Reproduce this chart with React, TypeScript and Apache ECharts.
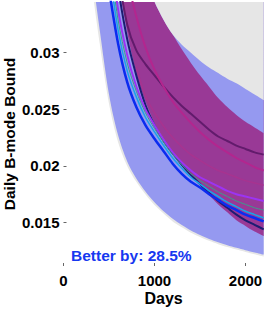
import React, { useEffect, useRef } from "react";
import * as echarts from "echarts";

// ---- data ----
const bandDays = [300, 400, 500, 600, 700, 800, 900, 1000, 1100, 1200, 1300, 1400, 1500, 1600, 1700, 1800, 1900, 2000, 2100, 2200];
const grayLower = [0.0365, 0.0307, 0.0255, 0.0221, 0.02, 0.0186, 0.0175, 0.01655, 0.0158, 0.0151, 0.01458, 0.0141, 0.01372, 0.01338, 0.01308, 0.01283, 0.01261, 0.0124, 0.0122, 0.012];
const blueLower = [0.0378, 0.0319, 0.0263, 0.0227, 0.0204, 0.0189, 0.01775, 0.0168, 0.016, 0.01534, 0.01478, 0.0143, 0.0139, 0.01355, 0.01325, 0.013, 0.01277, 0.01256, 0.01236, 0.01217];
const blueUpper = [0.052, 0.047, 0.043, 0.04, 0.0375, 0.0357, 0.0343, 0.0332, 0.0322, 0.0314, 0.0307, 0.03, 0.0293, 0.0287, 0.0282, 0.0277, 0.0273, 0.0268, 0.0263, 0.0258];
const purpleLower = [0.075, 0.058, 0.046, 0.037, 0.0318, 0.0282, 0.0257, 0.0238, 0.0224, 0.0212, 0.0202, 0.0192, 0.0183, 0.0174, 0.0166, 0.0159, 0.0152, 0.0147, 0.0142, 0.0138];
const purpleUpper = [0.095, 0.075, 0.06, 0.05, 0.0435, 0.0395, 0.0366, 0.0345, 0.0329, 0.0316, 0.0303, 0.0291, 0.028, 0.027, 0.026, 0.0252, 0.0245, 0.0239, 0.0234, 0.0229];

const lineDays = [500, 600, 700, 800, 900, 1000, 1100, 1200, 1300, 1400, 1500, 1600, 1700, 1800, 1900, 2000, 2100, 2200];
const blueLine = [0.0356, 0.0308, 0.0274, 0.0252, 0.0236, 0.0224, 0.0213, 0.0202, 0.0193, 0.0186, 0.0181, 0.0175, 0.017, 0.0165, 0.0161, 0.0157, 0.0154, 0.0151];
const cyanLine = [0.0375, 0.032, 0.0284, 0.0261, 0.0243, 0.023, 0.0218, 0.0207, 0.0198, 0.019, 0.0184, 0.0178, 0.0173, 0.0168, 0.0164, 0.016, 0.0157, 0.0154];
const tealLine = [0.0387, 0.0329, 0.0291, 0.0266, 0.0247, 0.0233, 0.0221, 0.021, 0.0201, 0.0193, 0.0187, 0.0182, 0.0177, 0.0173, 0.0169, 0.0166, 0.0163, 0.0161];
const violetLine = [0.04, 0.0338, 0.0298, 0.027, 0.025, 0.0236, 0.0223, 0.0212, 0.0203, 0.0196, 0.019, 0.0186, 0.0182, 0.0178, 0.0175, 0.0173, 0.0171, 0.0169];
const navyLine = [0.046, 0.036, 0.0312, 0.028, 0.0254, 0.0236, 0.0222, 0.0211, 0.0201, 0.0192, 0.0184, 0.0176, 0.0169, 0.0163, 0.0157, 0.0152, 0.0148, 0.0144];

const darkPurpleDays = [600, 700, 800, 900, 1000, 1100, 1200, 1300, 1400, 1500, 1600, 1700, 1800, 1900, 2000, 2100, 2200];
const darkPurpleLine = [0.037, 0.0325, 0.0302, 0.029, 0.028, 0.027, 0.0261, 0.0253, 0.0246, 0.0239, 0.0232, 0.0226, 0.0222, 0.0218, 0.0215, 0.0212, 0.021];
const magentaDays = [700, 800, 900, 1000, 1100, 1200, 1300, 1400, 1500, 1600, 1700, 1800, 1900, 2000, 2100, 2200];
const magentaLine = [0.0365, 0.0332, 0.0305, 0.0285, 0.027, 0.0257, 0.0247, 0.0238, 0.023, 0.0223, 0.0217, 0.0212, 0.0207, 0.0203, 0.0199, 0.0196];
const pinkDays = [800, 900, 1000, 1100, 1200, 1300, 1400, 1500, 1600, 1700, 1800, 1900, 2000, 2100, 2200];
const pinkLine = [0.0287, 0.0262, 0.0247, 0.0235, 0.0225, 0.0217, 0.021, 0.0205, 0.02, 0.0196, 0.0193, 0.019, 0.0187, 0.0185, 0.0183];

const xTicks = [0, 1000, 2000];
const yTicks = [0.015, 0.02, 0.025, 0.03];
const annotation = "Better by: 28.5%";

const FONT = "'Liberation Sans', Arial, Helvetica, sans-serif";

const pairs = (d: number[], v: number[]) => d.map((x, i) => [x, v[i]]);

const areaFromTop = (d: number[], v: number[], color: string, opacity = 1) => ({
  type: "line",
  data: pairs(d, v),
  symbol: "none",
  smooth: 0.3,
  silent: true,
  lineStyle: { width: 0, opacity: 0 },
  areaStyle: { color, opacity, origin: "end" },
});

const curve = (d: number[], v: number[], color: string, width: number, opacity = 1) => ({
  type: "line",
  data: pairs(d, v),
  symbol: "none",
  smooth: 0.3,
  silent: true,
  lineStyle: { color, width, opacity },
});

export default function App() {
  const ref = useRef<HTMLDivElement>(null);
  useEffect(() => {
    if (!ref.current) return;
    const chart = echarts.init(ref.current, undefined, { renderer: "svg" });
    const topEdge = purpleUpper.map((v, i) => Math.max(v, blueUpper[i]));
    const purple = "rgb(155,26,120)";
    const lav = "#9599f0";
    const gray = "#e6e6e6";
    chart.setOption({
      animation: false,
      grid: { left: 63.5, right: 2.3, top: 2, bottom: 43, containLabel: false, outerBoundsMode: "none" },
      xAxis: {
        type: "value",
        min: 0,
        max: 2200,
        name: "Days",
        nameLocation: "middle",
        nameGap: 24,
        nameMoveOverlap: false,
        nameTextStyle: { color: "#000", fontSize: 16, fontWeight: "bold", fontFamily: FONT },
        axisLine: { show: false },
        splitLine: { show: false },
        axisTick: { show: true, inside: true, length: 3, lineStyle: { color: "#666" }, customValues: xTicks },
        axisLabel: {
          color: "#000",
          fontSize: 15,
          fontWeight: "bold",
          fontFamily: FONT,
          margin: 7,
          customValues: xTicks,
          formatter: (v: number) => String(v),
        },
      },
      yAxis: {
        type: "value",
        min: 0.01116,
        max: 0.03448,
        name: "Daily B-mode Bound",
        nameLocation: "middle",
        nameGap: 46,
        nameMoveOverlap: false,
        nameTextStyle: { color: "#000", fontSize: 15.5, fontWeight: "bold", fontFamily: FONT },
        axisLine: { show: false },
        splitLine: { show: false },
        axisTick: { show: true, inside: true, length: 3, lineStyle: { color: "#666" }, customValues: yTicks },
        axisLabel: {
          color: "#000",
          fontSize: 15,
          fontWeight: "bold",
          fontFamily: FONT,
          margin: 4,
          customValues: yTicks,
          formatter: (v: number) => String(v),
        },
      },
      graphic: [
        {
          type: "text",
          x: 71,
          y: 255.5,
          silent: true,
          style: {
            text: annotation,
            fill: "#1638f0",
            font: `bold 15.5px ${FONT}`,
            verticalAlign: "middle",
          },
        },
      ],
      series: [
        areaFromTop(bandDays, grayLower, gray),
        areaFromTop(bandDays, blueLower, lav),
        curve(lineDays, navyLine, "#1c1c72", 2),
        curve(lineDays, violetLine, "#9c34f2", 2),
        curve(lineDays, tealLine, "#3c9c8c", 1),
        curve(lineDays, cyanLine, "#18a6e6", 1.5),
        curve(lineDays, blueLine, "#0b2cf0", 2.5),
        areaFromTop(bandDays, purpleLower, purple, 0.75),
        areaFromTop(bandDays, purpleUpper, lav),
        areaFromTop(bandDays, topEdge, gray),
        curve(darkPurpleDays, darkPurpleLine, "#621b6c", 2),
        curve(magentaDays, magentaLine, "#b3268f", 2),
        curve(pinkDays, pinkLine, "#a8338f", 1.5, 0.9),
      ],
    });
    return () => chart.dispose();
  }, []);
  return (
    <div
      ref={ref}
      style={{ position: "fixed", left: 0, top: 0, width: 266, height: 309, background: "#fff" }}
    />
  );
}
